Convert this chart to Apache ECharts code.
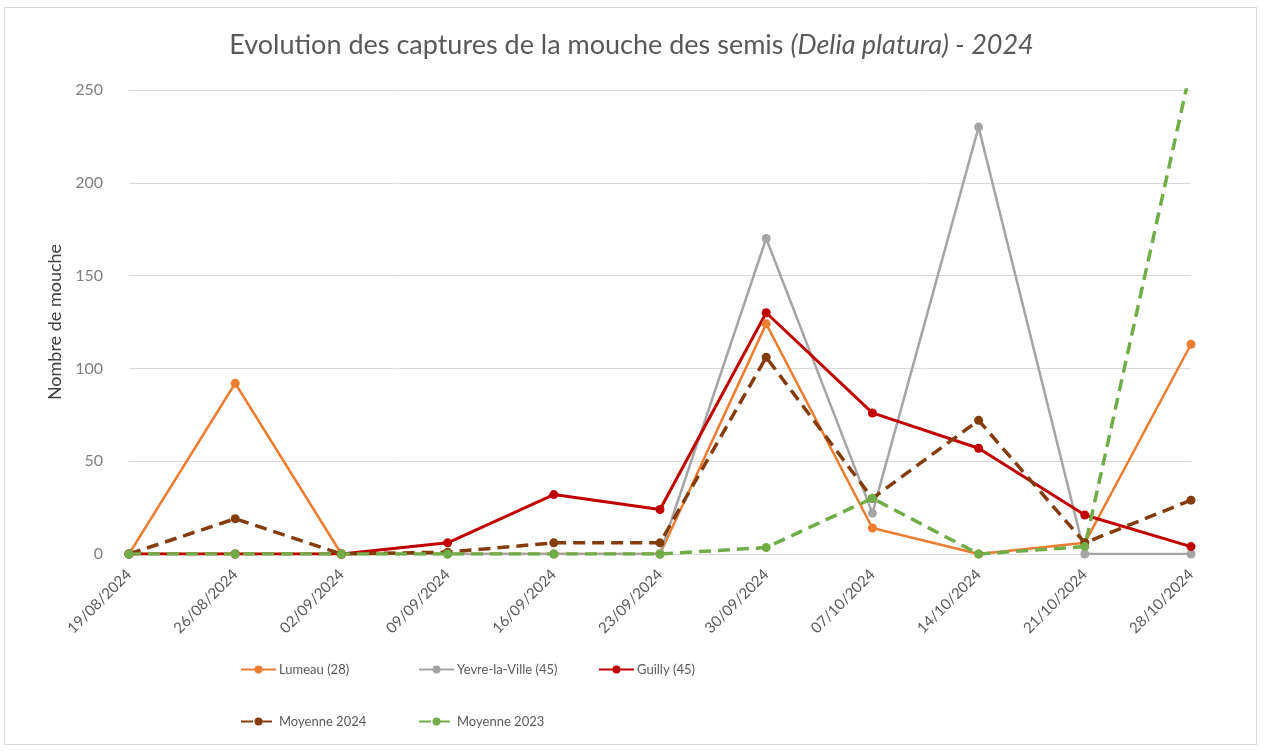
<!DOCTYPE html>
<html>
<head>
<meta charset="utf-8">
<script src="https://cdn.jsdelivr.net/npm/echarts@6/dist/echarts.min.js"></script>
<style>
  html, body { margin: 0; padding: 0; background: #fff; }
  #frame { position: absolute; left: 4px; top: 7px; width: 1253px; height: 738px; border: 1px solid #d9d9d9; box-sizing: border-box; }
  #chart { position: absolute; left: 0; top: 0; width: 1263px; height: 751px; }
</style>
</head>
<body>
<div id="frame"></div>
<div id="chart"></div>
<script>
  var dates = ['19/08/2024', '26/08/2024', '02/09/2024', '09/09/2024', '16/09/2024', '23/09/2024',
    '30/09/2024', '07/10/2024', '14/10/2024', '21/10/2024', '28/10/2024'];
  var lumeau = [0, 92, 0, 0, 0, 0, 124, 14, 0, 6, 113];
  var yevre = [0, 0, 0, 0, 0, 0, 170, 22, 230, 0, 0];
  var guilly = [0, 0, 0, 6, 32, 24, 130, 76, 57, 21, 4];
  var moy2024 = [0, 19, 0, 1, 6, 6, 106, 30, 72, 6, 29];
  var moy2023 = [0, 0, 0, 0, 0, 0, 3.5, 30, 0, 4, 262];
  var yTicks = [0, 50, 100, 150, 200, 250];

  var font = 'Lato, "Open Sans", sans-serif';
  var chart = echarts.init(document.getElementById('chart'));

  function mkSeries(name, data, color, width, dashed) {
    return {
      name: name,
      type: 'line',
      data: data,
      symbol: 'circle',
      symbolSize: 9,
      clip: true,
      itemStyle: { color: color },
      lineStyle: { color: color, width: width, type: dashed ? [12, 7] : 'solid' },
      emphasis: { disabled: true }
    };
  }

  function mkLegend(name, left, top) {
    return {
      data: [name],
      left: left,
      top: top,
      itemWidth: 35,
      itemHeight: 10,
      itemGap: 0,
      textStyle: { color: '#595959', fontSize: 13, fontFamily: font, padding: [0, 0, 0, -2] },
      selectedMode: false
    };
  }

  chart.setOption({
    animation: false,
    title: {
      text: 'Evolution des captures de la mouche des semis {i|(Delia platura) - 2024}',
      left: 'center',
      top: 27,
      textStyle: {
        color: '#595959', fontSize: 27, fontWeight: 'normal', fontFamily: font,
        rich: { i: { fontStyle: 'italic', color: '#595959', fontSize: 27, fontFamily: font } }
      }
    },
    legend: [
      mkLegend('Lumeau (28)', 235, 658),
      mkLegend('Yevre-la-Ville (45)', 413, 658),
      mkLegend('Guilly (45)', 593, 658),
      mkLegend('Moyenne 2024', 235, 710),
      mkLegend('Moyenne 2023', 413, 710)
    ],
    grid: { left: 129, right: 72, top: 90, bottom: 197 },
    xAxis: {
      type: 'category',
      data: dates,
      boundaryGap: false,
      axisLine: { lineStyle: { color: '#d9d9d9', width: 1 } },
      axisTick: { show: false },
      axisLabel: { rotate: 45, color: '#595959', fontSize: 15, fontFamily: font, margin: 18 }
    },
    yAxis: {
      type: 'value',
      min: 0,
      max: yTicks[yTicks.length - 1],
      interval: 50,
      name: 'Nombre de mouche',
      nameLocation: 'middle',
      nameGap: 56,
      nameTextStyle: { color: '#404040', fontSize: 18, fontFamily: font },
      axisLine: { show: false },
      axisTick: { show: false },
      axisLabel: { color: '#808080', fontSize: 16, fontFamily: font, margin: 26 },
      splitLine: { lineStyle: { color: '#d9d9d9', width: 1 } }
    },
    series: [
      mkSeries('Lumeau (28)', lumeau, '#ED7D31', 2.5, false),
      mkSeries('Yevre-la-Ville (45)', yevre, '#A5A5A5', 2.5, false),
      mkSeries('Guilly (45)', guilly, '#C00000', 3, false),
      mkSeries('Moyenne 2024', moy2024, '#843C0C', 3.5, true),
      mkSeries('Moyenne 2023', moy2023, '#70AD47', 3.5, true)
    ]
  });
</script>
</body>
</html>
